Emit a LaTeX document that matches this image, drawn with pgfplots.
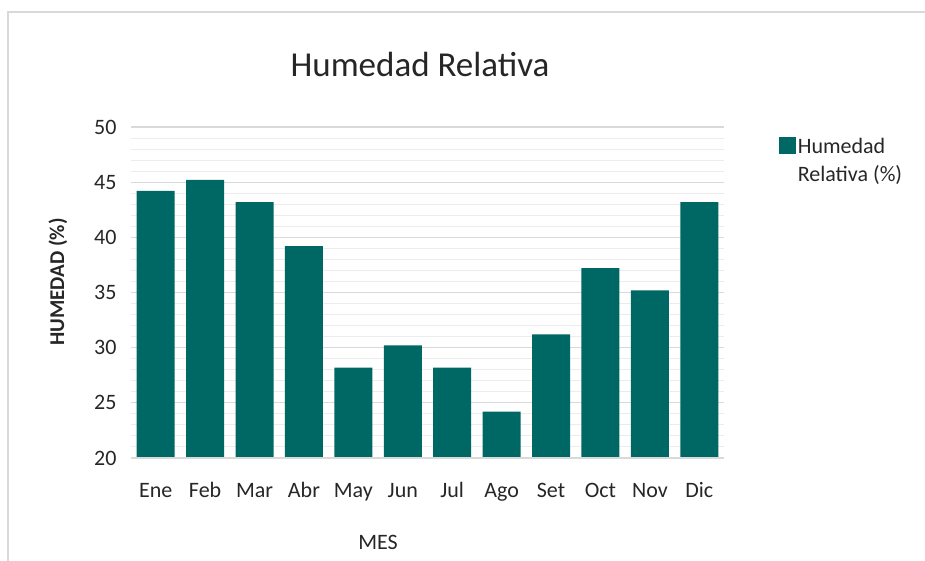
\documentclass[border=0pt]{standalone}
\usepackage{pgfplots}
\pgfplotsset{compat=1.18}
\usepackage{fontspec}
\setmainfont{Carlito}
\definecolor{teal1}{RGB}{0,104,100}
\definecolor{majgrid}{RGB}{217,217,217}
\definecolor{mingrid}{RGB}{236,236,236}
\definecolor{txt}{RGB}{38,38,38}
\begin{document}
\begin{tikzpicture}
\useasboundingbox (0pt,0pt) rectangle (925pt,-560pt);
\begin{scope}
\clip (0pt,0pt) rectangle (925pt,-560pt);
\draw[majgrid,line width=1.5pt] (8pt,-600pt) -- (8pt,-12pt) -- (930pt,-12pt);
\end{scope}
\begin{axis}[
  at={(131pt,-458pt)}, anchor=south west,
  width=593pt, height=331pt, scale only axis,
  xmin=-0.5, xmax=11.5, ymin=20, ymax=50,
  axis line style={draw=none},
  ytick={20,25,...,50}, minor ytick={21,22,23,24,26,27,28,29,31,32,33,34,36,37,38,39,41,42,43,44,46,47,48,49},
  ymajorgrids, yminorgrids,
  major grid style={majgrid,line width=1.3pt},
  minor grid style={mingrid,line width=1pt},
  xtick=data,
  xticklabels={Ene,Feb,Mar,Abr,May,Jun,Jul,Ago,Set,Oct,Nov,Dic},
  ticklabel style={font=\fontsize{22}{26}\selectfont, text=txt},
  xticklabel style={anchor=base, yshift=-39pt},
  yticklabel style={xshift=-11pt},
  /pgf/number format/assume math mode=true,
  tick style={draw=none},
  clip=false,
  legend style={at={(axis description cs:1.0921,0.9713)}, anchor=north west, draw=none, fill=none,
    font=\fontsize{22}{28}\selectfont, text=txt, cells={align=left},
    inner sep=0pt, row sep=0pt},
  legend image code/.code={\fill[teal1] (-2pt,7pt) rectangle (15pt,24pt);},
]
\addplot[ybar, bar width=38pt, fill=teal1, draw=none] coordinates {
(0,44.2) (1,45.2) (2,43.2) (3,39.2) (4,28.2) (5,30.2)
(6,28.2) (7,24.2) (8,31.2) (9,37.2) (10,35.2) (11,43.2)};
\addlegendentry{Humedad\\Relativa (\%)}
\draw[majgrid,line width=1.3pt] (axis cs:-0.5,20) -- (axis cs:11.5,20);
\end{axis}
\node[font=\fontsize{35}{40}\selectfont, text=txt, anchor=base] at (420pt,-76pt) {Humedad Relativa};
\node[font=\fontsize{22}{26}\selectfont, text=txt, anchor=center] at (378pt,-542pt) {MES};
\node[font=\bfseries\fontsize{21}{26}\selectfont, text=txt, rotate=90, anchor=center] at (58pt,-282pt) {HUMEDAD (\%)};
\end{tikzpicture}
\end{document}
